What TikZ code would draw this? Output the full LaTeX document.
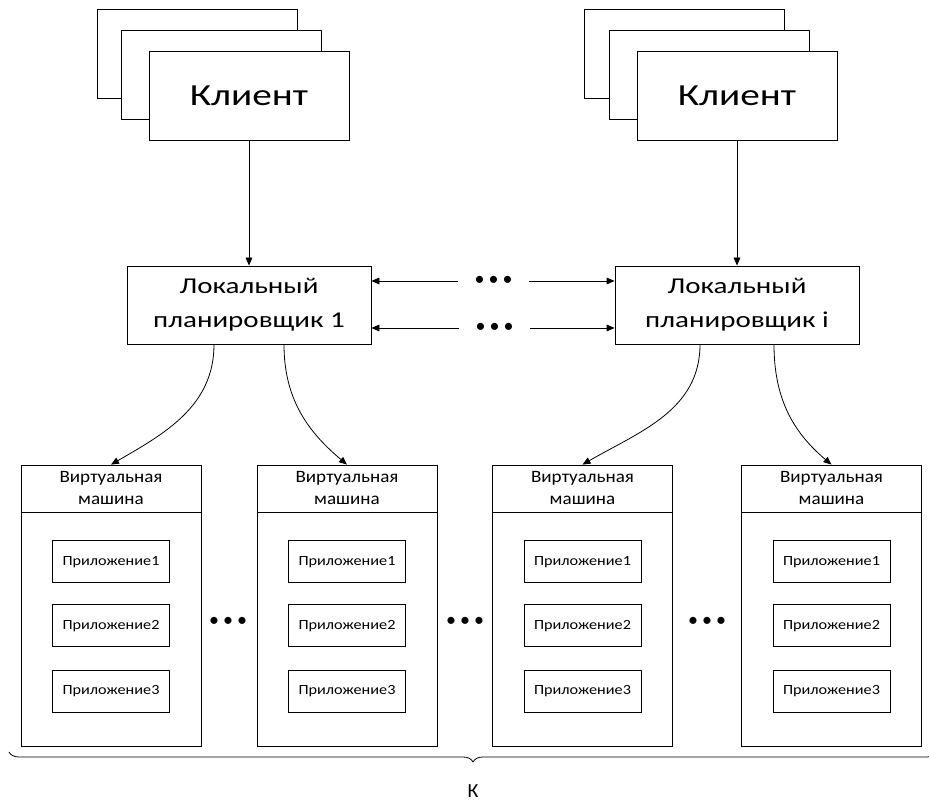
\documentclass[tikz,border=0pt]{standalone}
\usepackage{fontspec}
\setmainfont{Carlito}
\newfontfamily\widefont[FakeStretch=1.28]{Carlito}
\newfontfamily\vmfont[FakeStretch=1.1]{Carlito}
\newfontfamily\appfont[FakeStretch=1.16]{Carlito}
\usetikzlibrary{positioning}
\usetikzlibrary{arrows.meta}
\usetikzlibrary{decorations.pathreplacing}

\begin{document}
\begin{tikzpicture}[
x=0.75pt, y=0.75pt,
>={Triangle[length=6pt,width=5pt]},
line width=0.6pt,
clientnode/.style={rectangle, draw, fill=white, line width=0.6pt, inner sep=0pt, minimum width=150pt, minimum height=66.75pt, font=\widefont\fontsize{23}{28}\selectfont},
schednode/.style={rectangle, draw, line width=0.6pt, inner sep=0pt, align=center, minimum width=183pt, minimum height=58.5pt, font=\widefont\fontsize{17}{25.5}\selectfont},
vmnode/.style={rectangle, draw, line width=0.6pt, inner sep=0pt, minimum width=135pt, minimum height=210.75pt},
vmhead/.style={rectangle, inner sep=0pt, align=center, minimum height=35.25pt, font=\vmfont\fontsize{13}{16.5}\selectfont},
appnode/.style={rectangle, draw, line width=0.6pt, inner sep=0pt, minimum width=87.75pt, minimum height=31.5pt, font=\appfont\fontsize{10.5}{12}\selectfont},
dotsnode/.style={inner sep=0pt, minimum width=53.25pt, font=\fontsize{15}{15}\selectfont},
]
\useasboundingbox (0,0) rectangle (929,802);

%Clients
\node[clientnode] (cl1b) at (197,748.5) {};
\node[clientnode] (cl1m) at (221.5,727) {};
\node[clientnode] (cl1)  at (249,706.5) {Клиент};
\node[clientnode] (cl2b) at (684.5,748.5) {};
\node[clientnode] (cl2m) at (709,727) {};
\node[clientnode] (cl2)  at (737,706.5) {Клиент};

%Schedulers
\node[schednode] (sch1) at (249,497) {Локальный\\планировщик 1};
\node[schednode] (sch2) at (737,497) {Локальный\\планировщик i};
\node[dotsnode] (dtop) at (493.5,521) {\raisebox{-2.5pt}{\makebox[10.5pt]{•}\makebox[10.5pt]{•}\makebox[10.5pt]{•}}};
\node[dotsnode] (dbot) at (494.5,474) {\raisebox{-2.5pt}{\makebox[10.5pt]{•}\makebox[10.5pt]{•}\makebox[10.5pt]{•}}};

%Virtual machines
\node[vmnode] (vm1) at (111,196.5) {};
\node[vmnode] (vm2) at (347,196.5) {};
\node[vmnode] (vm3) at (582.5,196.5) {};
\node[vmnode] (vm4) at (831.5,196.5) {};
\node[vmhead] (vm1h) [below=0pt of vm1.north] {Виртуальная\\машина};
\node[vmhead] (vm2h) [below=0pt of vm2.north] {Виртуальная\\машина};
\node[vmhead] (vm3h) [below=0pt of vm3.north] {Виртуальная\\машина};
\node[vmhead] (vm4h) [below=0pt of vm4.north] {Виртуальная\\машина};

\node[appnode] (a11) [below=21pt of vm1h] {Приложение1};
\node[appnode] (a12) [below=15.75pt of a11] {Приложение2};
\node[appnode] (a13) [below=17.25pt of a12] {Приложение3};
\node[appnode] (a21) [below=21pt of vm2h] {Приложение1};
\node[appnode] (a22) [below=15.75pt of a21] {Приложение2};
\node[appnode] (a23) [below=17.25pt of a22] {Приложение3};
\node[appnode] (a31) [below=21pt of vm3h] {Приложение1};
\node[appnode] (a32) [below=15.75pt of a31] {Приложение2};
\node[appnode] (a33) [below=17.25pt of a32] {Приложение3};
\node[appnode] (a41) [below=21pt of vm4h] {Приложение1};
\node[appnode] (a42) [below=15.75pt of a41] {Приложение2};
\node[appnode] (a43) [below=17.25pt of a42] {Приложение3};

\node[dotsnode, minimum width=0pt] (d12) at (228,180) {\raisebox{-2.5pt}{\makebox[10.5pt]{•}\makebox[10.5pt]{•}\makebox[10.5pt]{•}}};
\node[dotsnode, minimum width=0pt] (d23) at (465,180) {\raisebox{-2.5pt}{\makebox[10.5pt]{•}\makebox[10.5pt]{•}\makebox[10.5pt]{•}}};
\node[dotsnode, minimum width=0pt] (d34) at (707,180) {\raisebox{-2.5pt}{\makebox[10.5pt]{•}\makebox[10.5pt]{•}\makebox[10.5pt]{•}}};

%Brace
\coordinate (brl) at (9,50);
\coordinate (brr) at (937,50);
\node[inner sep=0pt] (kk) at (473,11) {\fontsize{15}{15}\selectfont К};

%Lines
\draw (vm1.west |- vm1h.south) -- (vm1.east |- vm1h.south);
\draw (vm2.west |- vm2h.south) -- (vm2.east |- vm2h.south);
\draw (vm3.west |- vm3h.south) -- (vm3.east |- vm3h.south);
\draw (vm4.west |- vm4h.south) -- (vm4.east |- vm4h.south);

\draw[->] (cl1.south) -- (sch1.north);
\draw[->] (cl2.south) -- (sch2.north);
\draw[->] (dtop.west) -- (dtop.west -| sch1.east);
\draw[->] (dtop.east) -- (dtop.east -| sch2.west);
\draw[->] (dbot.west) -- (dbot.west -| sch1.east);
\draw[->] (dbot.east) -- (dbot.east -| sch2.west);

\draw[->] (sch1.south) ++(-35,0) to[out=-90,in=30] (vm1.north);
\draw[->] (sch1.south) ++(35,0) to[out=-90,in=140] (vm2.north);
\draw[->] (sch2.south) ++(-37,0) to[out=-90,in=30] (vm3.north);
\draw[->] (sch2.south) ++(37,0) to[out=-90,in=140] (vm4.north);

\draw[decorate, decoration={brace, mirror, amplitude=7.5pt}] (brl) -- (brr);
\end{tikzpicture}
\end{document}
